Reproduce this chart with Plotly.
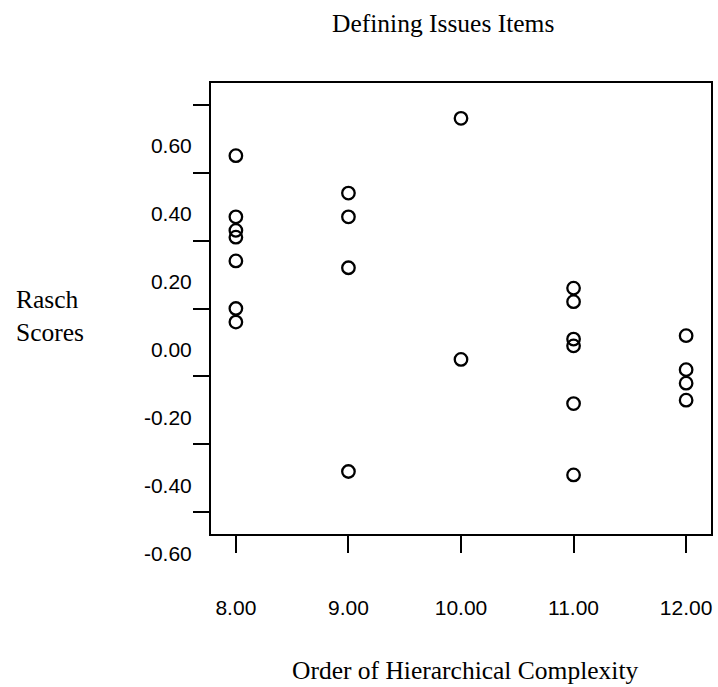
import plotly.graph_objects as go

# ---- data ----
complexity_levels = [8, 9, 10, 11, 12]
scores_8 = [0.45, 0.27, 0.23, 0.21, 0.14, 0.00, -0.04]
scores_9 = [0.34, 0.27, 0.12, -0.48]
scores_10 = [0.56, -0.15]
scores_11 = [0.06, 0.02, -0.09, -0.11, -0.28, -0.49]
scores_12 = [-0.08, -0.18, -0.22, -0.27]

x_tick_vals = [8, 9, 10, 11, 12]
x_tick_text = ["8.00", "9.00", "10.00", "11.00", "12.00"]
y_tick_vals = [0.6, 0.4, 0.2, 0.0, -0.2, -0.4, -0.6]
y_tick_text = ["0.60", "0.40", "0.20", "0.00", "-0.20", "-0.40", "-0.60"]

title_text = "Defining Issues Items"
x_title = "Order of Hierarchical Complexity"
y_title = "Rasch<br>Scores"

groups = [scores_8, scores_9, scores_10, scores_11, scores_12]
xs, ys = [], []
for lvl, vals in zip(complexity_levels, groups):
    xs += [lvl] * len(vals)
    ys += vals

SANS = "Liberation Sans, Arial, sans-serif"
SERIF = "Liberation Serif, Times New Roman, serif"

fig = go.Figure(
    go.Scatter(
        x=xs, y=ys, mode="markers",
        marker=dict(symbol="circle-open", size=12.5, color="black",
                    line=dict(width=2.3, color="black")),
        hoverinfo="x+y",
    )
)

fig.update_layout(
    width=718, height=687,
    margin=dict(l=211, r=5, t=83, b=153),
    paper_bgcolor="white", plot_bgcolor="white",
    showlegend=False,
    xaxis=dict(
        range=[7.779, 12.221], tickvals=x_tick_vals, ticktext=x_tick_text,
        ticks="outside", ticklen=17, tickwidth=2, tickcolor="black",
        showline=True, linewidth=2, linecolor="black", mirror=True,
        showgrid=False, zeroline=False,
        tickfont=dict(family=SANS, size=21, color="black"),
        ticklabelstandoff=37,
    ),
    yaxis=dict(
        range=[-0.664, 0.664], tickvals=y_tick_vals, ticktext=y_tick_text,
        ticks="outside", ticklen=16, tickwidth=2, tickcolor="black",
        showline=True, linewidth=2, linecolor="black", mirror=True,
        showgrid=False, zeroline=False,
        tickfont=dict(family=SANS, size=21, color="black"),
        ticklabelshift=41,
        ticklabelstandoff=-3,
    ),
    annotations=[
        dict(text=title_text, xref="paper", yref="paper",
             x=(444 - 211) / 502, y=1 + (83 - 24) / 451,
             xanchor="center", yanchor="middle", showarrow=False,
             font=dict(family=SERIF, size=25.5, color="black")),
        dict(text=x_title, xref="paper", yref="paper",
             x=(466 - 211) / 502, y=-(670 - 534) / 451,
             xanchor="center", yanchor="middle", showarrow=False,
             font=dict(family=SERIF, size=25.5, color="black")),
        dict(text=y_title, xref="paper", yref="paper",
             x=(13 - 211) / 502, y=(534 - 316) / 451,
             xanchor="left", yanchor="middle", align="left", showarrow=False,
             font=dict(family=SERIF, size=25.5, color="black")),
    ],
)

fig.write_html("out.html")
